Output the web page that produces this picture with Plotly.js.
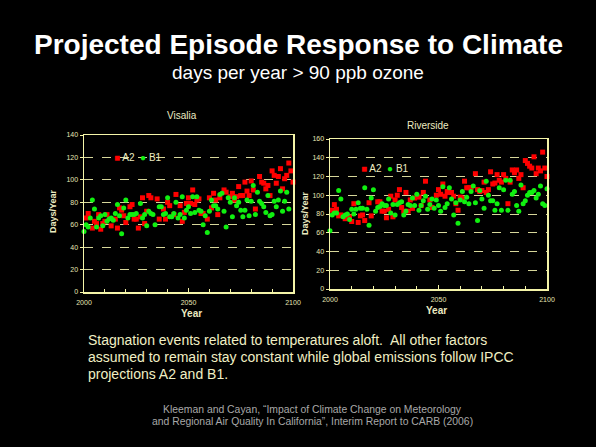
<!DOCTYPE html>
<html>
<head>
<meta charset="utf-8">
<script src="https://cdn.plot.ly/plotly-3.0.1.min.js"></script>
<style>html,body{margin:0;padding:0;background:#000;}#chart{width:596px;height:447px;}</style>
</head>
<body>
<div id="chart"></div>
<script>
// ---------- DATA ----------
const visaliaA2Years = [2001,2002,2004,2005,2006,2007,2008,2009,2010,2011,2013,2015,2016,2017,2018,2019,2020,2022,2023,2024,2025,2026,2027,2028,2029,2030,2031,2032,2035,2036,2038,2039,2040,2041,2043,2044,2046,2047,2048,2049,2050,2051,2052,2053,2054,2055,2056,2057,2059,2060,2061,2062,2063,2064,2065,2067,2068,2070,2071,2072,2073,2074,2075,2076,2077,2078,2079,2080,2081,2082,2084,2085,2086,2087,2088,2089,2090,2091,2092,2093,2094,2095,2096,2097,2098,2099,2100];
const visaliaA2 = [66,70,57,63,61,69,56,61,63,69,59,65,57,75,73,68,62,76,78,65,65,57,67,84,61,72,86,84,83,65,74,65,80,77,69,87,77,63,71,79,84,79,91,78,82,83,70,70,65,84,75,88,82,69,84,91,89,85,88,82,85,94,86,86,98,90,86,99,91,74,103,98,97,92,95,86,108,104,97,103,110,92,101,104,115,108,98];

const visaliaB1Years = [2000,2001,2002,2003,2004,2005,2006,2007,2008,2009,2010,2011,2012,2013,2014,2015,2016,2017,2018,2019,2020,2021,2022,2023,2024,2025,2027,2028,2029,2030,2031,2032,2033,2034,2036,2037,2038,2039,2040,2041,2042,2043,2044,2045,2046,2047,2048,2049,2050,2051,2052,2053,2054,2055,2056,2057,2058,2059,2060,2061,2062,2063,2064,2065,2066,2067,2068,2069,2070,2071,2072,2073,2074,2075,2076,2077,2078,2079,2080,2081,2082,2083,2084,2085,2086,2087,2088,2089,2090,2091,2092,2093,2094,2095,2096,2097,2098];
const visaliaB1 = [54,60,58,66,82,74,58,66,68,59,69,63,65,66,64,70,78,68,52,75,82,66,69,69,69,70,79,66,69,59,72,70,69,60,76,76,69,70,84,67,67,70,80,66,69,85,66,73,76,70,85,71,85,73,72,60,68,53,72,82,77,77,74,87,88,72,58,84,80,67,84,77,80,73,67,73,82,68,81,95,69,89,81,79,76,71,86,68,69,81,76,82,90,72,81,89,74];

const riversideA2Years = [2001,2002,2003,2004,2005,2007,2009,2010,2011,2013,2014,2015,2016,2018,2019,2022,2023,2024,2025,2026,2027,2028,2029,2030,2031,2032,2033,2034,2035,2036,2037,2038,2039,2041,2042,2043,2044,2046,2047,2049,2050,2051,2052,2053,2054,2055,2056,2057,2058,2059,2060,2061,2062,2063,2064,2065,2067,2068,2069,2070,2071,2072,2073,2074,2075,2076,2077,2078,2079,2080,2081,2082,2083,2084,2085,2086,2087,2088,2089,2090,2091,2092,2093,2094,2095,2096,2097,2098,2099,2100];
const riversideA2 = [84,90,85,78,79,75,77,72,91,71,78,79,73,92,78,93,93,83,83,76,85,99,77,95,100,106,87,83,103,83,95,86,97,98,89,103,115,95,87,100,106,101,112,99,104,103,103,99,91,84,98,97,115,108,108,108,123,106,104,105,114,103,106,125,112,113,122,116,114,122,118,91,114,127,124,127,118,122,108,137,134,131,129,141,123,129,126,146,129,120];

const riversideB1Years = [2000,2001,2002,2003,2004,2005,2006,2007,2008,2009,2010,2011,2012,2013,2014,2015,2016,2017,2018,2019,2020,2021,2022,2023,2024,2025,2026,2027,2028,2029,2030,2031,2032,2033,2034,2035,2036,2037,2038,2039,2040,2041,2042,2043,2044,2045,2046,2047,2048,2049,2050,2051,2052,2053,2054,2055,2056,2057,2058,2059,2060,2061,2062,2063,2064,2065,2066,2067,2068,2069,2070,2071,2072,2073,2074,2075,2076,2077,2078,2079,2080,2081,2082,2083,2084,2085,2086,2087,2088,2089,2090,2091,2092,2093,2094,2095,2096,2097,2098,2099,2100];
const riversideB1 = [62,79,81,81,105,96,77,79,80,74,85,80,85,92,86,86,108,85,68,97,106,83,87,88,91,89,89,96,81,90,79,90,92,93,79,83,90,89,97,89,101,84,89,94,99,85,90,96,86,95,89,83,109,87,91,108,96,79,92,70,95,104,93,98,91,104,110,92,73,105,96,86,115,100,94,94,84,91,108,84,106,116,84,116,101,104,89,83,111,91,94,100,103,103,105,97,101,110,91,89,107];

const seriesNames = ['A2','B1'];
const yTitle = 'Days/Year';
const xTitle = 'Year';
const noteLines = [
  'Stagnation events related to temperatures aloft.  All other factors',
  'assumed to remain stay constant while global emissions follow IPCC',
  'projections A2 and B1.'
];
const citeLines = [
  'Kleeman and Cayan, \u201cImpact of Climate Change on Meteorology',
  'and Regional Air Quality In California\u201d, Interim Report to CARB (2006)'
];

// ---------- STYLE ----------
const W = 596, H = 447;
const px = v => v / W;
const py = v => 1 - v / H;
const FONT = 'Liberation Sans, Arial, Helvetica, sans-serif';
const axisColor = '#f4f4a8';
const tickColor = '#e6e6b4';
const gridColor = '#d6d69a';
const cream = '#ecebc0';
const red = '#ff0000';
const green = '#10f010';

function mk(x, y, name, xa, ya, isA2) {
  return {
    type: 'scatter', mode: 'markers', x: x, y: y, name: name,
    xaxis: xa, yaxis: ya, cliponaxis: false, showlegend: false,
    marker: isA2 ? {symbol: 'square', size: 5, color: red}
                 : {symbol: 'circle', size: 5, color: green},
    hoverinfo: 'x+y'
  };
}

const traces = [
  mk(visaliaA2Years, visaliaA2, seriesNames[0], 'x', 'y', true),
  mk(visaliaB1Years, visaliaB1, seriesNames[1], 'x', 'y', false),
  mk(riversideA2Years, riversideA2, seriesNames[0], 'x2', 'y2', true),
  mk(riversideB1Years, riversideB1, seriesNames[1], 'x2', 'y2', false)
];

function xax(dom, anchor) {
  return {
    domain: dom, anchor: anchor, range: [2000, 2100], tick0: 2000, dtick: 50,
    ticks: 'inside', ticklen: 4, tickwidth: 1, tickcolor: axisColor,
    minor: {tick0: 2000, dtick: 10, ticks: 'inside', ticklen: 3, tickcolor: axisColor, showgrid: false},
    showgrid: false, zeroline: false, showline: true, linecolor: axisColor, linewidth: 1.5, mirror: true,
    tickfont: {family: FONT, size: 7, color: tickColor}, ticklabelstandoff: 3, fixedrange: true
  };
}
function yax(dom, anchor, max) {
  return {
    domain: dom, anchor: anchor, range: [0, max], tick0: 0, dtick: 20,
    ticks: 'outside', ticklen: 3, tickwidth: 1, tickcolor: axisColor,
    showgrid: true, gridcolor: gridColor, gridwidth: 1, griddash: '9px,9px',
    zeroline: false, showline: true, linecolor: axisColor, linewidth: 1.5, mirror: true,
    tickfont: {family: FONT, size: 7, color: tickColor}, fixedrange: true
  };
}

function ann(text, x, y, size, color, extra) {
  return Object.assign({
    text: text, x: px(x), y: py(y), xref: 'paper', yref: 'paper',
    showarrow: false, xanchor: 'center', yanchor: 'middle',
    font: {family: FONT, size: size, color: color}
  }, extra || {});
}

function legendText() {
  return '<span style="color:' + red + '">\u25A0</span> ' + seriesNames[0] +
         '  <span style="color:' + green + '">\u25CF</span> ' + seriesNames[1];
}

const annotations = [
  ann('<b>Projected Episode Response to Climate</b>', 298, 45, 28, '#ffffff'),
  ann('days per year &gt; 90 ppb ozone', 298, 72, 19, '#ffffff'),
  ann('Visalia', 182, 115, 10, cream),
  ann('Riverside', 428, 125, 10, cream),
  ann('<b>' + yTitle + '</b>', 53, 211, 9, cream, {textangle: -90}),
  ann('<b>' + yTitle + '</b>', 305, 213, 9, cream, {textangle: -90}),
  ann('<b>' + xTitle + '</b>', 191, 313, 10, cream),
  ann('<b>' + xTitle + '</b>', 436, 310, 10, cream),
  ann(legendText(), 112, 157, 10, cream, {xanchor: 'left'}),
  ann(legendText(), 359, 169, 10, cream, {xanchor: 'left'})
];
const noteY = [340, 357, 374];
noteLines.forEach((t, i) => annotations.push(ann(t, 86, noteY[i], 14, '#f0efc4', {xanchor: 'left', align: 'left'})));
const citeY = [409, 421];
citeLines.forEach((t, i) => annotations.push(ann(t, 312, citeY[i], 10.4, '#a8a8a8')));

const layout = {
  width: W, height: H,
  margin: {l: 0, r: 0, t: 0, b: 0},
  paper_bgcolor: '#000', plot_bgcolor: '#000',
  font: {family: FONT, color: cream},
  showlegend: false,
  xaxis: xax([px(84), px(293)], 'y'),
  yaxis: yax([py(292), py(135)], 'x', 140),
  xaxis2: xax([px(330), px(547)], 'y2'),
  yaxis2: yax([py(289), py(139)], 'x2', 160),
  annotations: annotations
};

Plotly.newPlot('chart', traces, layout, {displayModeBar: false, staticPlot: true});
</script>
</body>
</html>
